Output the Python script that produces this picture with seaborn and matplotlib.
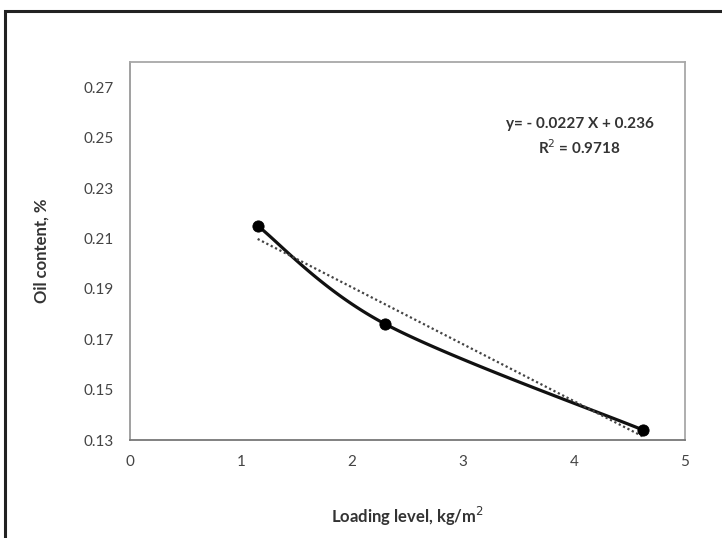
import numpy as np
import pandas as pd
import matplotlib
matplotlib.use("Agg")
import matplotlib.pyplot as plt
import seaborn as sns
from matplotlib.patches import Rectangle

loading = [1.15, 2.30, 4.62]
oil = [0.215, 0.176, 0.134]
x_ticks = [0, 1, 2, 3, 4, 5]
y_ticks = [0.13, 0.15, 0.17, 0.19, 0.21, 0.23, 0.25, 0.27]
equation = "y= - 0.0227 X + 0.236"
r2_text = "R$^2$ = 0.9718"

df = pd.DataFrame({"loading": loading, "oil": oil})


def smooth_curve(x, y, n=60):
    # Excel-style smoothed line: cubic Bezier segments with Catmull-Rom tangents
    p = np.column_stack([x, y])
    pts = []
    for i in range(len(p) - 1):
        p0 = p[i - 1] if i > 0 else p[i]
        p3 = p[i + 2] if i + 2 < len(p) else p[i + 1]
        c1 = p[i] + (p[i + 1] - p0) / 6
        c2 = p[i + 1] - (p3 - p[i]) / 6
        t = np.linspace(0, 1, n)[:, None]
        seg = ((1 - t) ** 3 * p[i] + 3 * (1 - t) ** 2 * t * c1
               + 3 * (1 - t) * t ** 2 * c2 + t ** 3 * p[i + 1])
        pts.append(seg)
    pts = np.vstack(pts)
    return pd.DataFrame({"loading": pts[:, 0], "oil": pts[:, 1]})


sns.set_style("white")
plt.rcParams['font.family'] = ['Lato', 'DejaVu Sans']

fig = plt.figure(figsize=(7.22, 5.38), dpi=100)
ax = fig.add_axes([130 / 722, 1 - 440 / 538, 555 / 722, 378 / 538])

# outer chart frame
fig.patches.append(Rectangle((5 / 722, -0.05), 1.1, 1 - 11 / 538 + 0.05,
                             transform=fig.transFigure, fill=False,
                             edgecolor='#222222', linewidth=2.2))

smooth = smooth_curve(np.array(loading), np.array(oil))
sns.lineplot(data=smooth, x="loading", y="oil", ax=ax, color='#111111',
             linewidth=2.3, sort=False)

# linear trendline
sns.regplot(data=df, x="loading", y="oil", ax=ax, scatter=False, ci=None,
            truncate=True, line_kws=dict(color='#444444', linestyle=(0, (1, 1.2)), linewidth=1.6))

sns.scatterplot(data=df, x="loading", y="oil", ax=ax, color='black', s=65,
                edgecolor='black', zorder=5)

ax.set_xlim(0, 5)
ax.set_ylim(0.13, 0.28)
ax.set_xticks(x_ticks)
ax.set_yticks(y_ticks)
ax.set_yticklabels([f"{v:.2f}" for v in y_ticks])
ax.tick_params(axis='both', labelsize=11, labelcolor='#444444', colors='#888888')
ax.tick_params(axis='x', direction='inout', length=5, width=1, pad=8)
ax.tick_params(axis='y', length=0, pad=12)
for s in ax.spines.values():
    s.set_color('#a8a8a8')
    s.set_linewidth(1.3)
ax.spines['bottom'].set_color('#777777')
ax.spines['left'].set_color('#999999')

ax.set_xlabel("Loading level, kg/m$^2$", fontsize=12, fontweight='bold',
              color='#333333', labelpad=26)
ax.set_ylabel("Oil content, %", fontsize=12, fontweight='bold',
              color='#333333', labelpad=24)

ax.text(4.05, 0.2552, equation, fontsize=11, fontweight='bold', color='#333333',
        ha='center', va='center')
ax.text(4.05, 0.2462, r2_text, fontsize=11, fontweight='bold', color='#333333',
        ha='center', va='center')

fig.savefig("out.png", dpi=100)
